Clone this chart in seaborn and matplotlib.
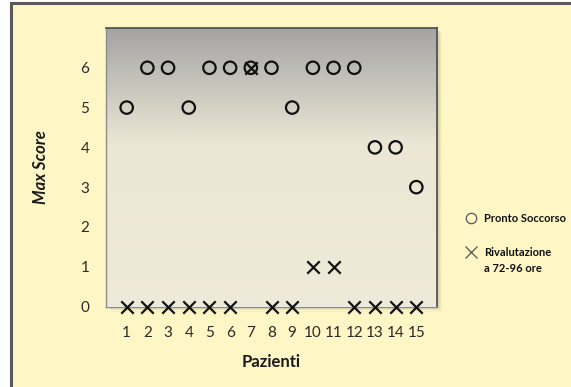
import numpy as np
import pandas as pd
import matplotlib
matplotlib.use("Agg")
import matplotlib.pyplot as plt
from matplotlib.lines import Line2D
from matplotlib.patches import Rectangle
import seaborn as sns

# Patients and the maximum score at each assessment
pazienti = list(range(1, 16))
pronto_soccorso = [5, 6, 6, 5, 6, 6, 6, 6, 5, 6, 6, 6, 4, 4, 3]
rivalutazione = [0, 0, 0, 0, 0, 0, 6, 0, 0, 1, 1, 0, 0, 0, 0]
serie_ps = "Pronto Soccorso"
serie_riv = ["Rivalutazione", "a 72-96 ore"]
y_ticks = [0, 1, 2, 3, 4, 5, 6, 7]
y_labels = ["0", "1", "2", "3", "4", "5", "6", ""]

df = pd.DataFrame({"Pazienti": pazienti, "ps": pronto_soccorso, "riv": rivalutazione})

sns.set_style("white")
plt.rcParams["font.family"] = ["Lato", "DejaVu Sans"]

W, H = 571, 387
fig = plt.figure(figsize=(W / 100, H / 100), dpi=100, facecolor="white")
bg = "#FFF6C6"

def fx(px):
    return px / W

def fy(py):
    return 1 - py / H

# chart area frame
fig.patches.append(Rectangle((fx(11), fy(H + 10)), 1.2, fy(3) - fy(H + 10),
                             transform=fig.transFigure, facecolor=bg,
                             edgecolor="#5A5A5A", linewidth=2.2, zorder=0))

left, right, top, bottom = 106, 437, 28, 306.5
# soft drop shadow of the plot area
for i, a in enumerate([0.10, 0.08, 0.06, 0.04]):
    d = 1.5 + i * 1.2
    fig.patches.append(Rectangle((fx(left + d), fy(bottom + d)), fx(right - left), fy(top) - fy(bottom),
                                 transform=fig.transFigure, facecolor="#6A6A50",
                                 edgecolor="none", alpha=a, zorder=0.5))

ax = fig.add_axes([fx(left), fy(bottom), fx(right - left), fy(top) - fy(bottom)])
ax.set_zorder(1)

# gradient fill: gray at the top fading to cream
t = np.linspace(0, 1, 256)
top_c = np.array([0.64, 0.64, 0.64])
mid_c = np.array([0.925, 0.906, 0.835])
bot_c = np.array([0.935, 0.918, 0.850])
k = np.clip(t / 0.42, 0, 1)[:, None]
cols = np.where(t[:, None] < 0.42, top_c * (1 - k) + mid_c * k,
                mid_c + (bot_c - mid_c) * ((t[:, None] - 0.42) / 0.58))
ax.imshow(cols[:, None, :], extent=[0, 16, 0, 7], origin="upper", aspect="auto",
          zorder=0, interpolation="bilinear")

sns.scatterplot(data=df, x="Pazienti", y="ps", marker="o", s=80, facecolors="none",
                edgecolor="#111111", linewidth=1.6, ax=ax, zorder=3, legend=False,
                clip_on=False)
sns.scatterplot(data=df, x="Pazienti", y="riv", marker="x", s=80, color="#111111",
                linewidth=1.6, ax=ax, zorder=4, legend=False, clip_on=False)

ax.set_xlim(0, 16)
ax.set_ylim(0, 7)
ax.set_xticks(range(0, 17))
ax.set_xticklabels([""] + [str(p) for p in pazienti] + [""])
ax.set_yticks(y_ticks)
ax.set_yticklabels(y_labels)
ax.tick_params(axis="both", direction="out", length=4, width=1, color="#8A8A8A",
               labelsize=11, labelcolor="#2A2A2A", pad=8)
ax.tick_params(axis="x", pad=10)

for s in ["left", "bottom"]:
    ax.spines[s].set_color("#8C8C8C")
    ax.spines[s].set_linewidth(1)
for s in ["top", "right"]:
    ax.spines[s].set_color("#4A4A4A")
    ax.spines[s].set_linewidth(1.2)

ax.set_xlabel("Pazienti", fontsize=12, fontweight="bold", color="#1A1A1A", labelpad=10)
ax.set_ylabel("Max Score", fontsize=12, fontweight="bold", fontstyle="italic",
              color="#1A1A1A", labelpad=23)

circle_h = Line2D([], [], marker="o", linestyle="none", markerfacecolor="none",
                  markeredgecolor="#555555", markersize=7.5, markeredgewidth=0.9)
cross_h = Line2D([], [], marker="x", linestyle="none", color="#555555",
                 markersize=8, markeredgewidth=0.9)
blank_h = Line2D([], [], linestyle="none")

leg_kw = dict(frameon=False, prop={"size": 8, "weight": "bold"}, handletextpad=0.6,
              handlelength=1.2, borderaxespad=0, borderpad=0, loc="center left")
leg1 = fig.legend([circle_h], [serie_ps], bbox_to_anchor=(fx(464), fy(218)), **leg_kw)
leg2 = fig.legend([cross_h, blank_h], serie_riv, bbox_to_anchor=(fx(464), fy(260)),
                  labelspacing=0.45, **leg_kw)
for lg in (leg1, leg2):
    for txt in lg.get_texts():
        txt.set_color("#111111")

fig.savefig("out.png", dpi=100, facecolor="white")
